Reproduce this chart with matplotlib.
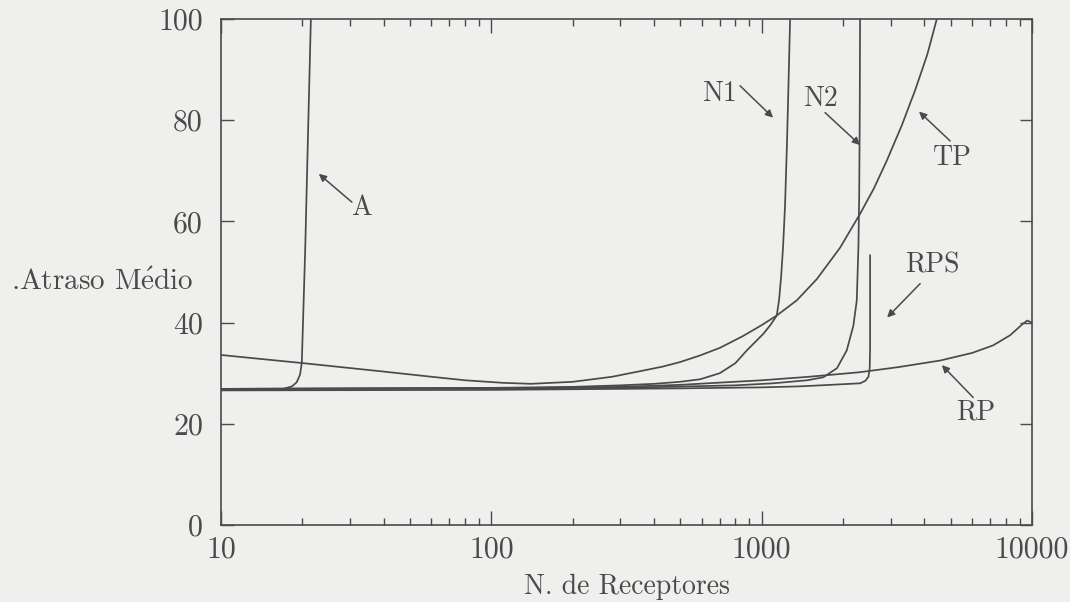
import numpy as np
import matplotlib
matplotlib.use("Agg")
import matplotlib.pyplot as plt

# ---- data (x = receivers, y = mean delay) ----
a_x = [10, 15, 17, 18.3, 19.05, 19.6, 19.9, 20.5, 21.0, 21.5]
a_y = [26.7, 26.7, 26.9, 27.4, 28.2, 29.7, 32, 55, 78, 100]

n1_x = [10, 100, 200, 300, 400, 499, 592, 700, 800, 881, 1015, 1080, 1137,
        1160, 1180, 1200, 1220, 1240, 1258, 1274]
n1_y = [26.9, 27.1, 27.3, 27.6, 27.9, 28.3, 28.8, 30.0, 32.0, 34.5, 37.8, 39.6,
        41.4, 44.5, 49, 55, 63, 75, 88, 100]

n2_x = [10, 300, 800, 1100, 1472, 1692, 1900, 2064, 2184, 2248, 2280, 2295, 2305, 2312]
n2_y = [26.9, 27.1, 27.6, 28.0, 28.6, 29.2, 31.0, 34.5, 39.4, 44.4, 55, 65, 80, 100]

tp_x = [10, 20, 38.7, 60, 80, 110, 140, 200, 280, 355, 430, 499, 591, 700, 850,
        1000, 1137, 1349, 1600, 1950, 2312, 2600, 2903, 3300, 3700, 4100, 4445]
tp_y = [33.6, 32.0, 30.4, 29.3, 28.6, 28.1, 27.9, 28.3, 29.3, 30.4, 31.3, 32.2,
        33.5, 35.0, 37.3, 39.5, 41.4, 44.4, 48.6, 54.8, 61.5, 66.5, 72.0, 79.0,
        86.0, 93.0, 100]

rps_x = [10, 100, 499, 1000, 1387, 1800, 2312, 2420, 2483, 2510, 2518, 2518]
rps_y = [26.6, 26.7, 27.0, 27.2, 27.4, 27.7, 28.0, 28.5, 29.3, 31.0, 35.0, 53.3]

rp_x = [10, 100, 300, 499, 1000, 1500, 2312, 3200, 4571, 6000, 7180, 8300, 9270,
        9600, 10000]
rp_y = [26.9, 27.0, 27.3, 27.7, 28.6, 29.3, 30.2, 31.2, 32.5, 34.0, 35.5, 37.5,
        39.8, 40.4, 40.0]

x_ticks = [10, 100, 1000, 10000]
x_tick_labels = ["10", "100", "1000", "10000"]
y_ticks = [0, 20, 40, 60, 80, 100]

# labels: (text, text position, arrow tail, arrow tip)
notes = [
    ("A",   (33.2, 62.7), (30.5, 63.8), (23.0, 69.4)),
    ("N1",  (701, 85.2),  (832, 86.8),  (1102, 80.5)),
    ("N2",  (1644, 84.2), (1716, 81.5), (2312, 75.1)),
    ("TP",  (5060, 72.6), (4980, 75.9), (3820, 81.7)),
    ("RPS", (4266, 51.3), (3857, 47.7), (2911, 41.0)),
    ("RP",  (6170, 22.3), (6060, 25.2), (4640, 31.6)),
]

INK = "#4a4a4a"
BG = "#efefed"

plt.rcParams["font.family"] = ["cmr10", "DejaVu Serif"]
plt.rcParams["mathtext.fontset"] = "cm"
plt.rcParams["axes.formatter.use_mathtext"] = True

fig = plt.figure(figsize=(10.7, 6.02), dpi=100, facecolor=BG)
ax = fig.add_axes([221 / 1070, 1 - 525 / 602, 811 / 1070, 506 / 602], facecolor=BG)

for xs, ys in [(a_x, a_y), (n1_x, n1_y), (n2_x, n2_y), (tp_x, tp_y),
               (rps_x, rps_y), (rp_x, rp_y)]:
    ax.plot(xs, ys, "-", color=INK, lw=1.25, solid_joinstyle="round")

ax.set_xscale("log")
ax.set_xlim(10, 10000)
ax.set_ylim(0, 100)
ax.set_xticks(x_ticks)
ax.set_xticklabels(x_tick_labels)
ax.set_yticks(y_ticks)
ax.set_yticklabels([str(v) for v in y_ticks])

ax.tick_params(axis="both", which="both", direction="in", colors=INK,
               labelcolor=INK, labelsize=21.5, width=1.0)
ax.tick_params(axis="x", which="major", length=10, pad=8, top=True)
ax.tick_params(axis="x", which="minor", length=5, top=True)
ax.tick_params(axis="y", which="major", length=9, pad=13, right=True)
for s in ax.spines.values():
    s.set_color(INK)
    s.set_linewidth(1.2)

ax.set_xlabel("N. de Receptores", fontsize=20, color=INK, labelpad=7)
ax.set_ylabel(r".Atraso M$\mathrm{\acute{e}}$dio", fontsize=21, color=INK,
              rotation=0, ha="right", va="center")
ax.yaxis.set_label_coords(-0.034, 0.48)

for txt, pos, tail, tip in notes:
    ax.text(pos[0], pos[1], txt, fontsize=20, color=INK, ha="center", va="center")
    ax.annotate("", xy=tip, xytext=tail,
                arrowprops=dict(arrowstyle="-|>", color=INK, lw=1.1,
                                mutation_scale=11, shrinkA=0, shrinkB=0))

fig.savefig("out.png", dpi=100, facecolor=BG)
